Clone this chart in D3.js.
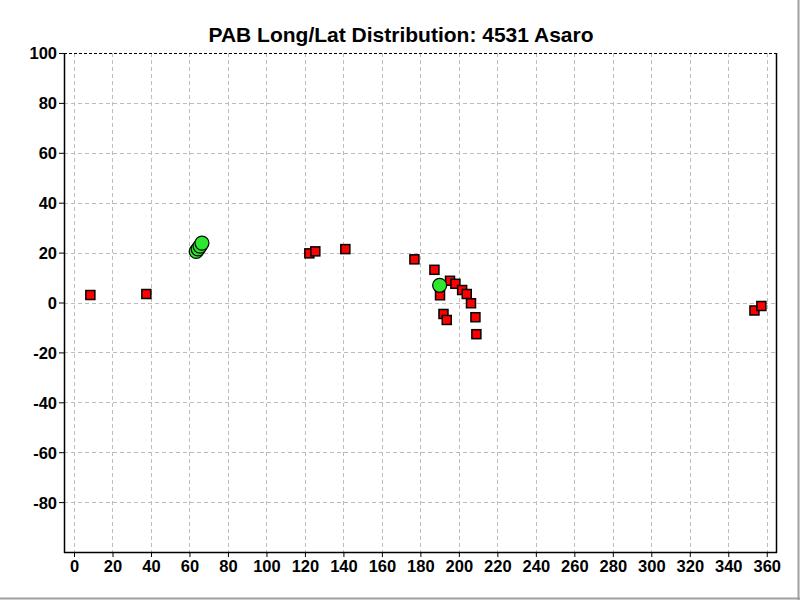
<!DOCTYPE html>
<html><head><meta charset="utf-8">
<script src="https://cdn.jsdelivr.net/npm/d3@7"></script>
<style>html,body{margin:0;padding:0;background:#fff;}svg{display:block;}</style>
</head><body>
<script>
const title = "PAB Long/Lat Distribution: 4531 Asaro";
const redLon = [8.5, 37.6, 122.3, 125.4, 141.0, 176.9, 187.3, 195.4, 198.2, 201.7, 204.1, 206.3, 190.2, 192.0, 193.7, 208.6, 209.1, 353.6, 357.2];
const redLat = [3.0, 3.4, 19.7, 20.5, 21.4, 17.3, 13.1, 8.7, 7.5, 5.0, 3.4, -0.3, 2.9, -4.6, -7.0, -5.9, -12.7, -3.2, -1.4];
const greenLon = [63.5, 64.5, 65.5, 66.5, 190.0];
const greenLat = [20.5, 21.5, 22.6, 23.8, 6.9];
const xTicks = d3.range(0, 361, 20);
const yTicks = [100, 80, 60, 40, 20, 0, -20, -40, -60, -80];
const yGrid = [80, 60, 40, 20, 0, -20, -40, -60, -80];

const W = 800, H = 600;
const L = 64, R = 776, T = 53, B = 552;
const svg = d3.select("body").append("svg").attr("width", W).attr("height", H);
const x = d3.scaleLinear().domain([-5.2, 364.8]).range([L, R]);
const y = d3.scaleLinear().domain([-100, 100]).range([B, T]);
const font = "'Liberation Sans', Arial, sans-serif";

// window border
svg.append("line").attr("x1", 0).attr("x2", W).attr("y1", H - 1.5).attr("y2", H - 1.5).attr("stroke", "#a0a0a0").attr("stroke-width", 2);
svg.append("line").attr("x1", W - 1.5).attr("x2", W - 1.5).attr("y1", 0).attr("y2", H).attr("stroke", "#a0a0a0").attr("stroke-width", 2);

// grid
const g = svg.append("g");
g.selectAll(".vg").data(xTicks).join("line")
  .attr("x1", d => Math.round(x(d)) + 0.5).attr("x2", d => Math.round(x(d)) + 0.5)
  .attr("y1", T).attr("y2", B)
  .attr("stroke", "#bdbdbd").attr("stroke-dasharray", "4,3");
g.selectAll(".hg").data(yGrid).join("line")
  .attr("y1", d => Math.round(y(d)) + 0.5).attr("y2", d => Math.round(y(d)) + 0.5)
  .attr("x1", L).attr("x2", R)
  .attr("stroke", "#bdbdbd").attr("stroke-dasharray", "4,3");

// frame
svg.append("line").attr("x1", L).attr("x2", R).attr("y1", T + 0.5).attr("y2", T + 0.5)
  .attr("stroke", "#000").attr("stroke-dasharray", "3,2");
svg.append("line").attr("x1", L + 0.5).attr("x2", L + 0.5).attr("y1", T).attr("y2", B + 1).attr("stroke", "#000").attr("stroke-width", 1.5);
svg.append("line").attr("x1", R + 0.5).attr("x2", R + 0.5).attr("y1", T).attr("y2", B + 1).attr("stroke", "#000").attr("stroke-width", 1.5);
svg.append("line").attr("x1", L).attr("x2", R + 1).attr("y1", B + 0.5).attr("y2", B + 0.5).attr("stroke", "#000").attr("stroke-width", 1.5);

// axes
const fmt = d => String(d);
const yAxis = d3.axisLeft(y).tickValues(yTicks).tickSize(5).tickPadding(2).tickFormat(fmt);
const ya = svg.append("g").attr("transform", `translate(${L},0)`).call(yAxis);
const xAxis = d3.axisBottom(x).tickValues(xTicks).tickSize(5).tickPadding(3).tickFormat(fmt);
const xa = svg.append("g").attr("transform", `translate(0,${B})`).call(xAxis);
[ya, xa].forEach(a => {
  a.select(".domain").remove();
  a.selectAll("text").attr("font-family", font).attr("font-size", 16.5).attr("font-weight", "bold").attr("fill", "#000");
  a.selectAll("line").attr("stroke", "#000");
});
ya.selectAll("text").attr("dy", "0.36em");

// title
svg.append("text").attr("x", 401).attr("y", 42).attr("text-anchor", "middle")
  .attr("font-family", font).attr("font-size", 21).attr("font-weight", "bold").text(title);

// points
const reds = redLon.map((d, i) => [d, redLat[i]]);
const greens = greenLon.map((d, i) => [d, greenLat[i]]);
const s = 9;
svg.append("g").selectAll("rect").data(reds).join("rect")
  .attr("x", d => x(d[0]) - s / 2).attr("y", d => y(d[1]) - s / 2)
  .attr("width", s).attr("height", s)
  .attr("fill", "#ff0000").attr("stroke", "#000").attr("stroke-width", 1.5);
svg.append("g").selectAll("circle").data(greens).join("circle")
  .attr("cx", d => x(d[0])).attr("cy", d => y(d[1])).attr("r", 7)
  .attr("fill", "#2ee62e").attr("stroke", "#000").attr("stroke-width", 1.2);
</script>
</body></html>
